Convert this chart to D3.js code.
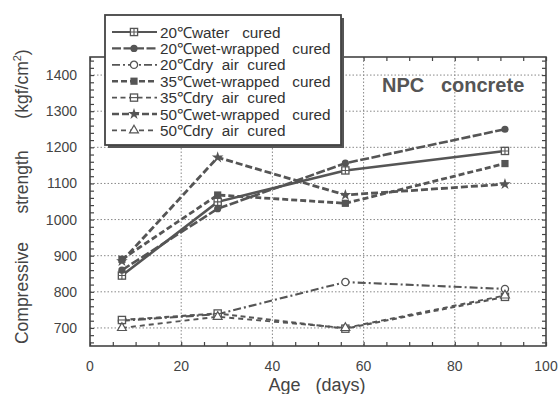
<!DOCTYPE html>
<html><head><meta charset="utf-8">
<script src="https://cdn.jsdelivr.net/npm/d3@7"></script>
<style>
body{margin:0;background:#fff;}
svg{display:block;}
text{font-family:"Liberation Sans",Arial,sans-serif;}
</style></head>
<body>
<svg id="chart" width="558" height="394"></svg>
<script>
// ---- data ----
const ages = [7, 28, 56, 91];
const seriesNames = [
  "20℃water   cured",
  "20℃wet-wrapped   cured",
  "20℃dry  air  cured",
  "35℃wet-wrapped   cured",
  "35℃dry  air  cured",
  "50℃wet-wrapped   cured",
  "50℃dry  air  cured"
];
const water20 = [845, 1049, 1136, 1190];
const wet20   = [860, 1030, 1156, 1250];
const dry20   = [720, 738, 827, 808];
const wet35   = [890, 1068, 1045, 1155];
const dry35   = [722, 740, 698, 786];
const wet50   = [885, 1172, 1068, 1098];
const dry50   = [700, 731, 700, 790];
const xTicks = [0, 20, 40, 60, 80, 100];
const yTicks = [700, 800, 900, 1000, 1100, 1200, 1300, 1400];
const yTitleWords = ["Compressive", "strength"];
const seriesValues = [water20, wet20, dry20, wet35, dry35, wet50, dry50];

// ---- styles ----
const styles = [
  {dash:null, w:2.6, m:"plussq"},
  {dash:"9,2.5", w:2.6, m:"fcircle"},
  {dash:"8,3,2,3", w:2.1, m:"ocircle"},
  {dash:"6,3", w:2.8, m:"fsquare"},
  {dash:"5,3.5", w:2.1, m:"osquare"},
  {dash:"7,3", w:2.8, m:"star"},
  {dash:"5,4", w:1.9, m:"otri"}
];
const ink = "#555";

const svg = d3.select("#chart");
const L = 90, R = 546, T = 57, B = 346;
const x = d3.scaleLinear().domain([0, 100]).range([L, R]);
const y = d3.scaleLinear().domain([650, 1450]).range([B, T]);

// grid
const g = svg.append("g");
g.selectAll("line.gx").data(xTicks.filter(d => d > 0 && d < 100)).join("line")
  .attr("x1", d => x(d)).attr("x2", d => x(d)).attr("y1", T).attr("y2", B)
  .attr("stroke", "#888").attr("stroke-width", 1).attr("stroke-dasharray", "1.5,2");
g.selectAll("line.gy").data(yTicks).join("line")
  .attr("y1", d => y(d)).attr("y2", d => y(d)).attr("x1", L).attr("x2", R)
  .attr("stroke", "#888").attr("stroke-width", 1).attr("stroke-dasharray", "1.5,2");

// axes with inward ticks
const xMinor = d3.range(0, 101, 5);
const yMinor = d3.range(660, 1450, 20);
const axB = d3.axisBottom(x).tickValues(xMinor).tickSizeInner(-4).tickSizeOuter(0).tickFormat("");
const axT = d3.axisTop(x).tickValues(xMinor).tickSizeInner(-4).tickSizeOuter(0).tickFormat("");
const axL = d3.axisLeft(y).tickValues(yMinor).tickSizeInner(-4).tickSizeOuter(0).tickFormat("");
const axR = d3.axisRight(y).tickValues(yMinor).tickSizeInner(-4).tickSizeOuter(0).tickFormat("");
[[axB, `translate(0,${B})`], [axT, `translate(0,${T})`], [axL, `translate(${L},0)`], [axR, `translate(${R},0)`]].forEach(([a, t]) => {
  const ag = svg.append("g").attr("transform", t).call(a);
  ag.select(".domain").remove();
  ag.selectAll("line").attr("stroke", "#444").attr("stroke-width", 1.2);
});
svg.append("rect").attr("x", L).attr("y", T).attr("width", R - L).attr("height", B - T)
  .attr("fill", "none").attr("stroke", "#444").attr("stroke-width", 1.6);

// tick labels
svg.append("g").selectAll("text").data(xTicks).join("text")
  .attr("x", d => x(d)).attr("y", 371).attr("text-anchor", "middle")
  .attr("font-size", 14).attr("fill", "#444").text(d => d);
svg.append("g").selectAll("text").data(yTicks).join("text")
  .attr("x", 77).attr("y", d => y(d) + 5).attr("text-anchor", "end")
  .attr("font-size", 14).attr("fill", "#444").text(d => d);

// axis titles
svg.append("text").attr("x", 317).attr("y", 391).attr("text-anchor", "middle")
  .attr("font-size", 18).attr("fill", "#444").style("white-space", "pre").text("Age   (days)");
const yCenters = [293, 182];
yTitleWords.forEach((w, i) => {
  svg.append("text").attr("transform", `translate(28,${yCenters[i]}) rotate(-90)`).attr("text-anchor", "middle")
    .attr("font-size", 17.5).attr("fill", "#444").text(w);
});
svg.append("text").attr("transform", "translate(28,84) rotate(-90)").attr("text-anchor", "middle")
  .attr("font-size", 17.5).attr("fill", "#444")
  .html("(kgf/cm<tspan dy='-7' font-size='11'>2</tspan><tspan dy='7'>)</tspan>");

// title
svg.append("text").attr("x", 382).attr("y", 92).attr("font-size", 20).attr("font-weight", "bold")
  .attr("fill", "#555").style("white-space", "pre").text("NPC   concrete");

// markers
function marker(sel, type, cx, cy) {
  const s = 3.6;
  const mg = sel.append("g").attr("transform", `translate(${cx},${cy})`);
  if (type === "plussq") {
    mg.append("rect").attr("x", -s).attr("y", -s).attr("width", 2*s).attr("height", 2*s).attr("fill", "#fff").attr("stroke", ink).attr("stroke-width", 1.3);
    mg.append("path").attr("d", `M${-s},0H${s}M0,${-s}V${s}`).attr("stroke", ink).attr("stroke-width", 1.1);
  } else if (type === "fcircle") {
    mg.append("circle").attr("r", s).attr("fill", ink);
  } else if (type === "ocircle") {
    mg.append("circle").attr("r", s).attr("fill", "#fff").attr("stroke", ink).attr("stroke-width", 1.3);
  } else if (type === "fsquare") {
    mg.append("rect").attr("x", -s).attr("y", -s).attr("width", 2*s).attr("height", 2*s).attr("fill", ink);
  } else if (type === "osquare") {
    mg.append("rect").attr("x", -s).attr("y", -s).attr("width", 2*s).attr("height", 2*s).attr("fill", "#fff").attr("stroke", ink).attr("stroke-width", 1.3);
    mg.append("path").attr("d", `M${-s},0H${s}`).attr("stroke", ink).attr("stroke-width", 1.1);
  } else if (type === "star") {
    mg.append("path").attr("d", d3.symbol(d3.symbolStar, 42)()).attr("fill", ink);
  } else if (type === "otri") {
    mg.append("path").attr("d", d3.symbol(d3.symbolTriangle, 34)()).attr("fill", "#fff").attr("stroke", ink).attr("stroke-width", 1.2);
  }
}

// lines
const line = d3.line().x(d => x(d[0])).y(d => y(d[1]));
seriesValues.forEach((vals, i) => {
  const st = styles[i];
  const pts = ages.map((a, j) => [a, vals[j]]);
  svg.append("path").attr("d", line(pts)).attr("fill", "none").attr("stroke", ink)
    .attr("stroke-width", st.w).attr("stroke-dasharray", st.dash);
  const mg = svg.append("g");
  pts.forEach(p => marker(mg, st.m, x(p[0]), y(p[1])));
});

// legend
const lx = 105, ly = 15, lw = 236, lh = 130;
svg.append("rect").attr("x", lx + 3).attr("y", ly + 3).attr("width", lw).attr("height", lh).attr("fill", "#555");
svg.append("rect").attr("x", lx).attr("y", ly).attr("width", lw).attr("height", lh)
  .attr("fill", "#fff").attr("stroke", "#444").attr("stroke-width", 1.8);
seriesNames.forEach((name, i) => {
  const st = styles[i];
  const cy = 32 + i * 16.4;
  svg.append("line").attr("x1", 112).attr("x2", 157).attr("y1", cy).attr("y2", cy)
    .attr("stroke", ink).attr("stroke-width", st.w * 0.85).attr("stroke-dasharray", st.dash ? st.dash : null);
  marker(svg, st.m, 134, cy);
  svg.append("text").attr("x", 160).attr("y", cy + 5.5).attr("font-size", 15.3).attr("fill", "#333")
    .style("white-space", "pre").text(name);
});
</script>
</body></html>
